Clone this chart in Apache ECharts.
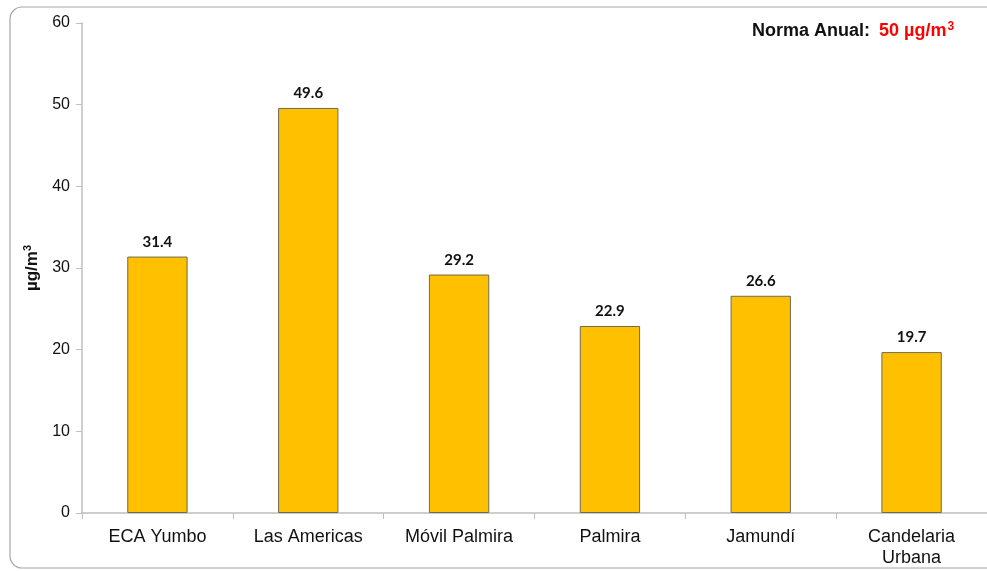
<!DOCTYPE html>
<html><head><meta charset="utf-8">
<script src="https://cdn.jsdelivr.net/npm/echarts@6/dist/echarts.min.js"></script>
<style>html,body{margin:0;padding:0;background:#fff}#c{width:987px;height:571px}</style>
</head><body><div id="c"></div>
<script>
const categories = ['ECA Yumbo', 'Las Americas', 'Móvil Palmira', 'Palmira', 'Jamundí', 'Candelaria\nUrbana'];
const values = [31.4, 49.6, 29.2, 22.9, 26.6, 19.7];
const yTicks = { min: 0, max: 60, interval: 10 };

const chart = echarts.init(document.getElementById('c'));
chart.setOption({
  animation: false,
  grid: { left: 82, right: -1, top: 23, bottom: 58 },
  graphic: [
    { type: 'rect', shape: { x: 10, y: 7, width: 1000, height: 561, r: 12 },
      style: { fill: 'none', stroke: '#a6a6a6', lineWidth: 1.2 }, silent: true },
    { type: 'text', left: 752, top: 21,
      style: { text: '{a|Norma Anual:}{b|50 µg/m}{s|3}',
        rich: {
          a: { fontFamily: 'Liberation Sans, Arial', fontWeight: 'bold', fontSize: 18, fill: '#111' },
          b: { fontFamily: 'Liberation Sans, Arial', fontWeight: 'bold', fontSize: 18, fill: '#ff0000', padding: [0,0,0,9] },
          s: { fontFamily: 'Liberation Sans, Arial', fontWeight: 'bold', fontSize: 12, fill: '#ff0000', verticalAlign: 'top', padding: [0,0,9,1] }
        } } }
  ],
  xAxis: {
    type: 'category', data: categories,
    axisLine: { lineStyle: { color: '#bfbfbf', width: 1.5 } },
    axisTick: { show: true, length: 6, alignWithLabel: false, lineStyle: { color: '#bfbfbf' } },
    axisLabel: { fontFamily: 'Liberation Sans, Arial', fontSize: 18, color: '#111', margin: 14, lineHeight: 21, interval: 0 }
  },
  yAxis: {
    type: 'value', min: yTicks.min, max: yTicks.max, interval: yTicks.interval,
    name: '{n|µg/m}{s|3}', nameLocation: 'middle', nameGap: 40, nameRotate: 90,
    nameTextStyle: { rich: {
      n: { fontFamily: 'Liberation Sans, Arial', fontWeight: 'bold', fontSize: 17, color: '#111' },
      s: { fontFamily: 'Liberation Sans, Arial', fontWeight: 'bold', fontSize: 11, color: '#111', verticalAlign: 'top', padding: [0,0,9,0] }
    } },
    axisLine: { show: true, lineStyle: { color: '#bfbfbf', width: 1.5 } },
    axisTick: { show: true, length: 6, lineStyle: { color: '#bfbfbf' } },
    splitLine: { show: false },
    axisLabel: { fontFamily: 'Liberation Sans, Arial', fontSize: 16, color: '#111', margin: 12 }
  },
  series: [{
    type: 'bar', data: values, barWidth: '40%',
    itemStyle: { color: '#ffc000', borderColor: '#6e6a55', borderWidth: 1 },
    label: { show: true, position: 'top', distance: 7, formatter: p => p.value.toFixed(1),
      fontFamily: 'Lato, Open Sans, sans-serif', fontWeight: 'bold', fontSize: 15, color: '#111' }
  }]
});
</script></body></html>
